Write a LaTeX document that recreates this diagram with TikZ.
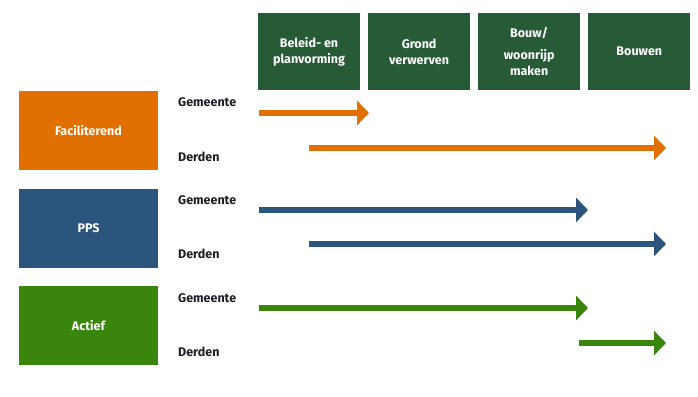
\documentclass[tikz,border=0pt]{standalone}
\usepackage{fontspec}
\setmainfont{Fira Sans}
\usepackage{tikz}
\usetikzlibrary{arrows.meta, positioning}

\definecolor{phasegreen}{HTML}{275A36}
\definecolor{facorange}{HTML}{E27000}
\definecolor{ppsblue}{HTML}{2C557E}
\definecolor{actgreen}{HTML}{3A860D}
\definecolor{labelink}{HTML}{1E1E28}

\begin{document}
\begin{tikzpicture}[
    x=1pt, y=-1pt,
    every node/.style={font=\fontsize{12.5}{16}\selectfont\bfseries, align=center},
    phasebox/.style={rectangle, fill=phasegreen, text=white, minimum width=102pt, minimum height=77pt, inner sep=2pt},
    rolebox/.style={rectangle, text=white, minimum width=139pt, minimum height=79pt},
    party/.style={anchor=west, text=labelink, inner sep=0pt},
    flow/.style={-{Triangle[width=24pt, length=12pt]}, line width=6pt, shorten >=-1pt}
]
\useasboundingbox[fill=white] (0,0) rectangle (698,396);

% Phases
\node (beleid) [phasebox] at (309,51.5) {Beleid- en\\planvorming};
\node (grond) [phasebox, right=7.7pt of beleid] {Grond\\verwerven};
\node (woonrijp) [phasebox, right=7.7pt of grond] {Bouw/\\[6pt]woonrijp\\maken};
\node (bouwen) [phasebox, right=7.7pt of woonrijp] {Bouwen};

% Roles
\node (fac) [rolebox, fill=facorange] at (88.5,130.5) {Faciliterend};
\node (pps) [rolebox, fill=ppsblue] at (88.5,228) {PPS};
\node (act) [rolebox, fill=actgreen] at (88.5,325.5) {Actief};

% Parties
\node (facgem) [party] at (178,102) {Gemeente};
\node (facder) [party] at (178,157) {Derden};
\node (ppsgem) [party] at (178,200) {Gemeente};
\node (ppsder) [party] at (178,254) {Derden};
\node (actgem) [party] at (178,298) {Gemeente};
\node (actder) [party] at (178,352) {Derden};

% Flow ends
\coordinate (fgA) at (259,113);  \coordinate (fgB) at (368,113);
\coordinate (fdA) at (309,148);  \coordinate (fdB) at (665,148);
\coordinate (pgA) at (259,210);  \coordinate (pgB) at (587,210);
\coordinate (pdA) at (309,244);  \coordinate (pdB) at (665,244);
\coordinate (agA) at (259,308);  \coordinate (agB) at (587,308);
\coordinate (adA) at (579,343);  \coordinate (adB) at (665,343);

% Flows
\draw [flow, draw=facorange, fill=facorange] (fgA) -- (fgB);
\draw [flow, draw=facorange, fill=facorange] (fdA) -- (fdB);
\draw [flow, draw=ppsblue, fill=ppsblue] (pgA) -- (pgB);
\draw [flow, draw=ppsblue, fill=ppsblue] (pdA) -- (pdB);
\draw [flow, draw=actgreen, fill=actgreen] (agA) -- (agB);
\draw [flow, draw=actgreen, fill=actgreen] (adA) -- (adB);

\end{tikzpicture}
\end{document}
